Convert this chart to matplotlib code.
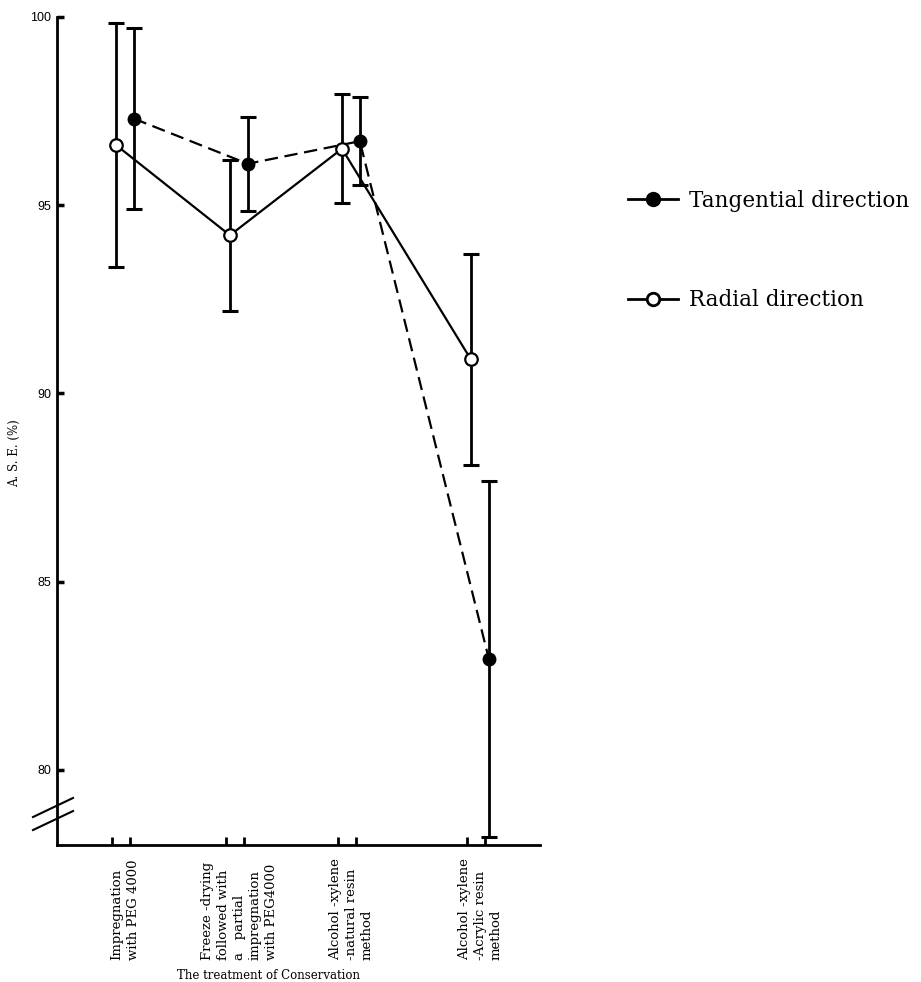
import matplotlib
matplotlib.use("Agg")
import matplotlib.pyplot as plt
from matplotlib.lines import Line2D
import numpy as np

# A.S.E. (%) for each conservation treatment
categories = [
    "Impregnation\nwith PEG 4000",
    "Freeze -drying\nfollowed with\na   partial\nimpregnation\nwith PEG4000",
    "Alcohol -xylene\n-natural resin\nmethod",
    "Alcohol -xylene\n-Acrylic resin\nmethod",
]
cat_pos = [1.22, 3.58, 5.90, 8.57]

radial_mean = [96.6, 94.2, 96.5, 90.9]
radial_err = [3.25, 2.0, 1.45, 2.8]
tangential_mean = [97.3, 96.1, 96.7, 82.95]
tangential_err = [2.4, 1.25, 1.17, 4.73]

yticks = [80, 85, 90, 95, 100]

serif = "DejaVu Serif"
sans = "Liberation Sans"

fig = plt.figure(figsize=(9.21, 9.82), dpi=100)
ax = fig.add_axes([0.0619, 0.1395, 0.5244, 0.8432])

x_rad = np.array(cat_pos)
x_tan = x_rad + 0.37

ax.errorbar(x_rad, radial_mean, yerr=radial_err, fmt="none", ecolor="black",
            elinewidth=2, capsize=6, capthick=2.2, zorder=2)
ax.errorbar(x_tan, tangential_mean, yerr=tangential_err, fmt="none", ecolor="black",
            elinewidth=2, capsize=6, capthick=2.2, zorder=2)
ax.plot(x_tan, tangential_mean, color="black", lw=1.6, ls=(0, (6, 3)),
        marker="o", ms=9, mfc="black", mec="black", zorder=3)
ax.plot(x_rad, radial_mean, color="black", lw=1.6, ls="-",
        marker="o", ms=9, mfc="white", mec="black", mew=1.6, zorder=4)

ax.set_xlim(0, 10)
ax.set_ylim(78.0, 100)
for s in ["top", "right"]:
    ax.spines[s].set_visible(False)
for s in ["left", "bottom"]:
    ax.spines[s].set_linewidth(2)

ax.set_yticks(yticks)
ax.set_yticklabels([str(v) for v in yticks], fontfamily=sans, fontsize=9)
ax.tick_params(axis="y", direction="in", length=5, width=2.5, pad=4)

ticks_x = np.concatenate([x_rad, x_tan]) - 0.08
ax.set_xticks(ticks_x)
ax.set_xticklabels([])
ax.tick_params(axis="x", direction="in", length=6, width=2)

# rotated treatment labels under each pair of ticks
for pos, lab in zip(cat_pos, categories):
    ax.text(pos + 0.19, -0.139, lab, rotation=90, ha="center", va="bottom",
            multialignment="left", fontfamily=serif, fontsize=9.5,
            linespacing=1.3, transform=ax.get_xaxis_transform())

ax.text(0.437, -0.158, "The treatment of Conservation", ha="center", va="center",
        fontfamily=serif, fontsize=8.5, transform=ax.transAxes)
ax.text(-0.087, 0.473, "A. S. E. (%)", rotation=90, ha="center", va="center",
        fontfamily=serif, fontsize=8.5, transform=ax.transAxes)

# axis break marks on the y axis
for y0, y1 in [(0.0338, 0.0568), (0.0181, 0.0410)]:
    ax.add_line(Line2D([-24 / 483, 16 / 483], [y0, y1], color="black", lw=1.5,
                       transform=ax.transAxes, clip_on=False))

handles = [
    Line2D([], [], color="black", lw=2, marker="o", ms=10, mfc="black", mec="black"),
    Line2D([], [], color="black", lw=2, marker="o", ms=9, mfc="white", mec="black", mew=2),
]
fig.legend(handles, ["Tangential direction", "Radial direction"],
           loc="upper left", bbox_to_anchor=(628 / 921, 1 - 190 / 982),
           bbox_transform=fig.transFigure, frameon=False, borderpad=0,
           borderaxespad=0, handlelength=2.3, handletextpad=0.55,
           labelspacing=3.6, prop={"family": serif, "size": 15.5})

fig.savefig("out.png", dpi=100)
